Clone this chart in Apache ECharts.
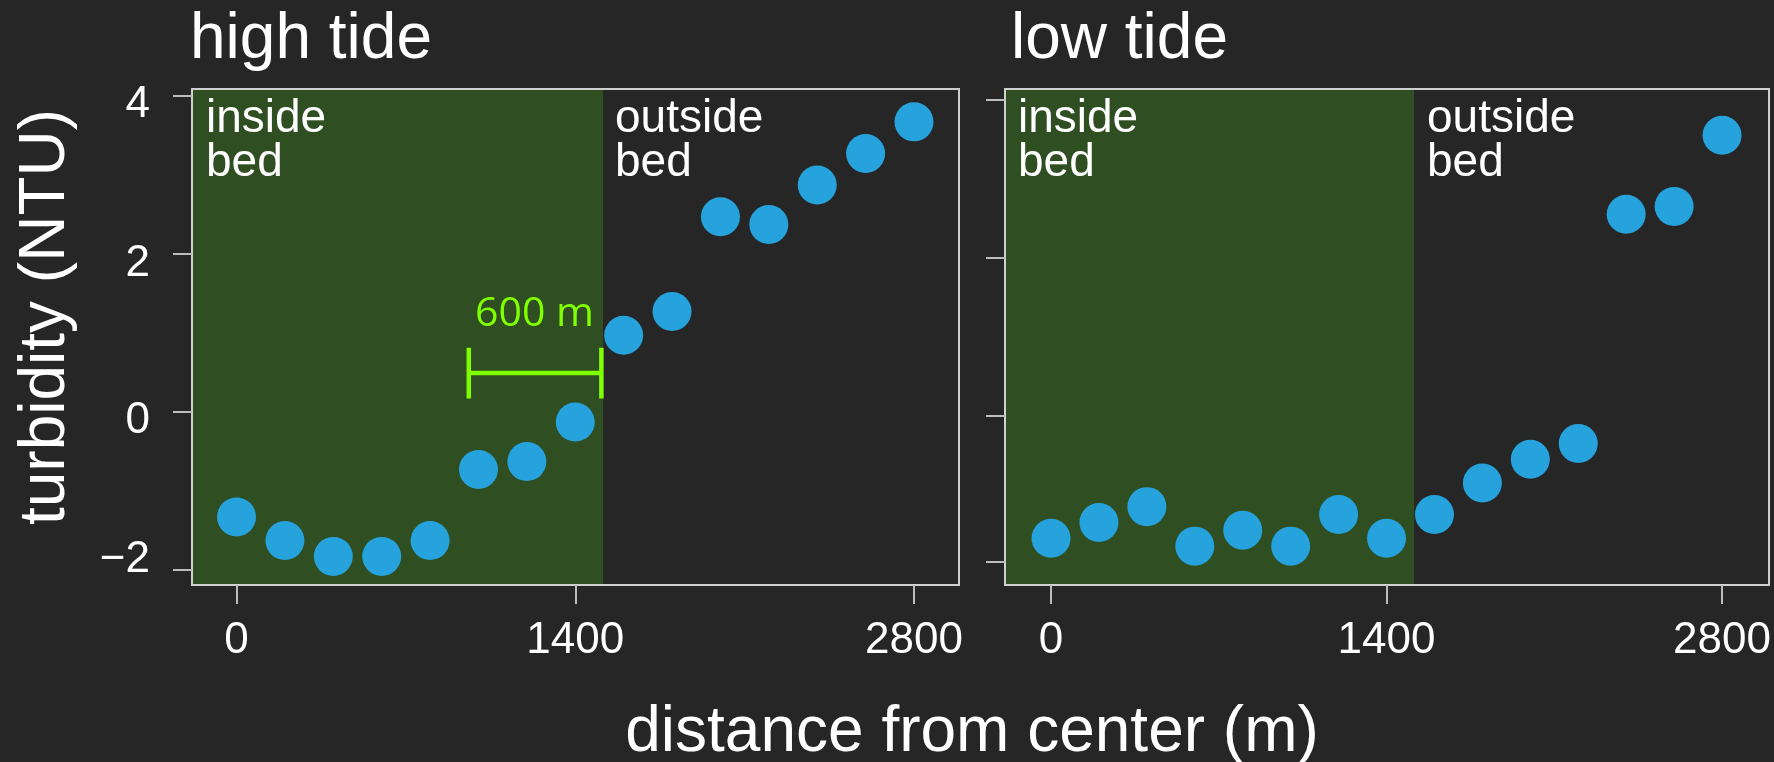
<!DOCTYPE html>
<html>
<head>
<meta charset="utf-8">
<script src="https://cdn.jsdelivr.net/npm/echarts@6/dist/echarts.min.js"></script>
<style>
  html, body { margin: 0; padding: 0; background: #262626; }
  #chart { width: 1774px; height: 762px; }
</style>
</head>
<body>
<div id="chart"></div>
<script>
// ---- data ----
const distance = [0, 200, 400, 600, 800, 1000, 1200, 1400, 1600, 1800, 2000, 2200, 2400, 2600, 2800];
const highTide = [-1.33, -1.63, -1.83, -1.83, -1.63, -0.73, -0.63, -0.13, 0.97, 1.27, 2.47, 2.37, 2.87, 3.27, 3.67];
const lowTide  = [-1.60, -1.40, -1.20, -1.70, -1.50, -1.70, -1.30, -1.60, -1.30, -0.90, -0.60, -0.40, 2.50, 2.60, 3.50];
const xTickValues = [0, 1400, 2800];
const xTickLabels = ['0', '1400', '2800'];
const yTickValues = [4, 2, 0, -2];
const yTickLabels = ['4', '2', '0', '\u22122'];
const bedEdge = 1515;               // end of the "inside bed" zone (m)
const scaleBarFrom = 960, scaleBarTo = 1508, scaleBarY = 0.49, scaleBarCapLow = 0.17, scaleBarCapHigh = 0.81;
const scaleBarText = '600 m';
const panelTitles = ['high tide', 'low tide'];

// ---- layout constants ----
const yLabelPos = [3.884, 1.872, -0.114, -1.872];     // label anchors of the left axis
const yTickPosRight = [3.956, 1.948, -0.051, -1.894]; // tick marks of the right panel
const yMin = -2.192, yMax = 4.086;

const BG = '#262626', GREEN = '#2f4e21', DOT = '#26a3dc', LIME = '#7fff00';
const FONT = 'Liberation Sans, Arial, Helvetica, sans-serif';

const chart = echarts.init(document.getElementById('chart'), null, {renderer: 'canvas'});

function pts(vals) { return distance.map((d, i) => [d, vals[i]]); }

function xAxisCfg(idx, min, max) {
  return {
    type: 'value', gridIndex: idx, min: min, max: max, z: 6,
    splitLine: {show: false},
    axisLine: {show: true, onZero: false, lineStyle: {color: '#d0d0d0', width: 2}},
    axisTick: {show: true, customValues: xTickValues, length: 19, inside: false,
               lineStyle: {color: '#bdbdbd', width: 2}},
    axisLabel: {show: true, customValues: xTickValues, margin: 34,
                color: '#ffffff', fontSize: 44, fontFamily: FONT,
                formatter: v => xTickLabels[xTickValues.indexOf(v)] ?? ''}
  };
}

const option = {
  backgroundColor: BG,
  animation: false,
  grid: [
    {left: 192, top: 89, width: 767, height: 496, show: true, z: 6, borderColor: '#d0d0d0', borderWidth: 2, backgroundColor: 'transparent'},
    {left: 1005, top: 89, width: 767, height: 496, show: true, z: 6, borderColor: '#d0d0d0', borderWidth: 2, backgroundColor: 'transparent'}
  ],
  xAxis: [xAxisCfg(0, -184, 2986), xAxisCfg(1, -192, 2996)],
  yAxis: [
    {
      type: 'value', gridIndex: 0, min: yMin, max: yMax, z: 6,
      splitLine: {show: false},
      axisLine: {show: true, onZero: false, lineStyle: {color: '#d0d0d0', width: 2}},
      axisTick: {show: true, customValues: yTickValues, length: 19, inside: false, lineStyle: {color: '#bdbdbd', width: 2}},
      axisLabel: {show: true, customValues: yLabelPos, margin: 42, color: '#ffffff', fontSize: 44, fontFamily: FONT,
        formatter: v => {
          let best = 0;
          yLabelPos.forEach((p, i) => { if (Math.abs(p - v) < Math.abs(yLabelPos[best] - v)) best = i; });
          return yTickLabels[best];
        }}
    },
    {
      type: 'value', gridIndex: 1, min: yMin, max: yMax, z: 6,
      splitLine: {show: false},
      axisLine: {show: true, onZero: false, lineStyle: {color: '#d0d0d0', width: 2}},
      axisTick: {show: true, customValues: yTickPosRight, length: 19, inside: false, lineStyle: {color: '#bdbdbd', width: 2}},
      axisLabel: {show: false}
    }
  ],
  series: [
    {type: 'scatter', xAxisIndex: 0, yAxisIndex: 0, data: [], z: 1,
     markArea: {silent: true, itemStyle: {color: GREEN}, data: [[{xAxis: -184}, {xAxis: bedEdge}]]}},
    {type: 'scatter', xAxisIndex: 1, yAxisIndex: 1, data: [], z: 1,
     markArea: {silent: true, itemStyle: {color: GREEN}, data: [[{xAxis: -192}, {xAxis: bedEdge}]]}},
    {type: 'line', xAxisIndex: 0, yAxisIndex: 0, z: 4, symbol: 'none', silent: true,
     lineStyle: {color: LIME, width: 4.5}, data: [[scaleBarFrom, scaleBarY], [scaleBarTo, scaleBarY]]},
    {type: 'line', xAxisIndex: 0, yAxisIndex: 0, z: 4, symbol: 'none', silent: true,
     lineStyle: {color: LIME, width: 4.5}, data: [[scaleBarFrom, scaleBarCapLow], [scaleBarFrom, scaleBarCapHigh]]},
    {type: 'line', xAxisIndex: 0, yAxisIndex: 0, z: 4, symbol: 'none', silent: true,
     lineStyle: {color: LIME, width: 4.5}, data: [[scaleBarTo, scaleBarCapLow], [scaleBarTo, scaleBarCapHigh]]},
    {type: 'scatter', name: panelTitles[0], xAxisIndex: 0, yAxisIndex: 0, z: 5, symbolSize: 39,
     itemStyle: {color: DOT, opacity: 1}, data: pts(highTide)},
    {type: 'scatter', name: panelTitles[1], xAxisIndex: 1, yAxisIndex: 1, z: 5, symbolSize: 39,
     itemStyle: {color: DOT, opacity: 1}, data: pts(lowTide)}
  ],
  graphic: [
    {type: 'text', x: 190, y: 40, style: {text: panelTitles[0], fill: '#fff', fontSize: 64, fontFamily: FONT, textAlign: 'left', align: 'left', textVerticalAlign: 'middle', verticalAlign: 'middle'}},
    {type: 'text', x: 1011, y: 40, style: {text: panelTitles[1], fill: '#fff', fontSize: 64, fontFamily: FONT, textAlign: 'left', align: 'left', textVerticalAlign: 'middle', verticalAlign: 'middle'}},
    {type: 'text', x: 46, y: 317, rotation: Math.PI / 2, style: {text: 'turbidity (NTU)', fill: '#fff', fontSize: 64, fontFamily: FONT, textAlign: 'center', align: 'center', textVerticalAlign: 'middle', verticalAlign: 'middle'}},
    {type: 'text', x: 972, y: 733, style: {text: 'distance from center (m)', fill: '#fff', fontSize: 64, fontFamily: FONT, textAlign: 'center', align: 'center', textVerticalAlign: 'middle', verticalAlign: 'middle'}},
    {type: 'text', x: 206, y: 119, z: 10, style: {text: 'inside', fill: '#fff', fontSize: 46, fontFamily: FONT, textAlign: 'left', align: 'left', textVerticalAlign: 'middle', verticalAlign: 'middle'}},
    {type: 'text', x: 206, y: 163, z: 10, style: {text: 'bed', fill: '#fff', fontSize: 46, fontFamily: FONT, textAlign: 'left', align: 'left', textVerticalAlign: 'middle', verticalAlign: 'middle'}},
    {type: 'text', x: 615, y: 119, z: 10, style: {text: 'outside', fill: '#fff', fontSize: 46, fontFamily: FONT, textAlign: 'left', align: 'left', textVerticalAlign: 'middle', verticalAlign: 'middle'}},
    {type: 'text', x: 615, y: 163, z: 10, style: {text: 'bed', fill: '#fff', fontSize: 46, fontFamily: FONT, textAlign: 'left', align: 'left', textVerticalAlign: 'middle', verticalAlign: 'middle'}},
    {type: 'text', x: 1018, y: 119, z: 10, style: {text: 'inside', fill: '#fff', fontSize: 46, fontFamily: FONT, textAlign: 'left', align: 'left', textVerticalAlign: 'middle', verticalAlign: 'middle'}},
    {type: 'text', x: 1018, y: 163, z: 10, style: {text: 'bed', fill: '#fff', fontSize: 46, fontFamily: FONT, textAlign: 'left', align: 'left', textVerticalAlign: 'middle', verticalAlign: 'middle'}},
    {type: 'text', x: 1427, y: 119, z: 10, style: {text: 'outside', fill: '#fff', fontSize: 46, fontFamily: FONT, textAlign: 'left', align: 'left', textVerticalAlign: 'middle', verticalAlign: 'middle'}},
    {type: 'text', x: 1427, y: 163, z: 10, style: {text: 'bed', fill: '#fff', fontSize: 46, fontFamily: FONT, textAlign: 'left', align: 'left', textVerticalAlign: 'middle', verticalAlign: 'middle'}},
    {type: 'text', x: 594, y: 314, z: 10, style: {text: scaleBarText, fill: LIME, fontSize: 41, fontFamily: 'Open Sans, sans-serif', textAlign: 'right', align: 'right', textVerticalAlign: 'middle', verticalAlign: 'middle'}}
  ]
};
chart.setOption(option);
</script>
</body>
</html>
